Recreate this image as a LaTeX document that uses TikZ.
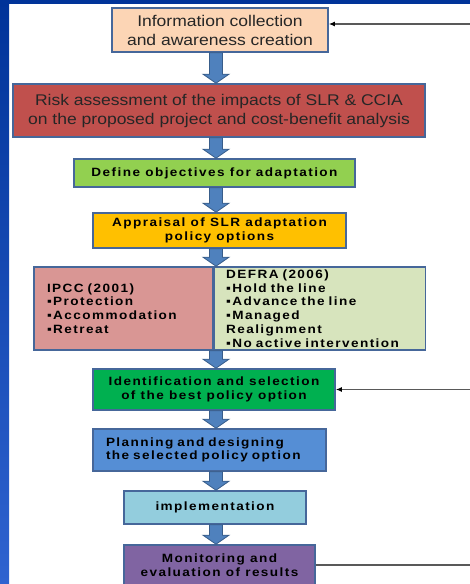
\documentclass[tikz,border=0pt]{standalone}
\usepackage{fontspec}
\setmainfont{Liberation Sans}
\newfontfamily\headfont[FakeStretch=1.13]{Liberation Sans}
\newfontfamily\stepfont[FakeStretch=1.13,LetterSpace=12]{Liberation Sans}
\usetikzlibrary{positioning,calc,arrows.meta}

\definecolor{slideblue}{HTML}{003399}
\definecolor{slidelight}{HTML}{2F63D0}
\definecolor{boxedge}{HTML}{46679A}
\definecolor{arrowblue}{HTML}{4F81BD}
\definecolor{arrowedge}{HTML}{385D8A}
\definecolor{infofill}{HTML}{FCD5B5}
\definecolor{riskfill}{HTML}{C0504D}
\definecolor{definefill}{HTML}{92D050}
\definecolor{appraisalfill}{HTML}{FFC000}
\definecolor{ipccfill}{HTML}{D99694}
\definecolor{defrafill}{HTML}{D7E4BD}
\definecolor{identfill}{HTML}{00B050}
\definecolor{planfill}{HTML}{558ED5}
\definecolor{implfill}{HTML}{93CDDD}
\definecolor{monitfill}{HTML}{8064A2}

% fat down arrow between two points on the spine
\newcommand\blockarrow[2]{%
  \path[draw=arrowedge, fill=arrowblue, line width=0.8pt]
    let \p1=(#1), \p2=(#2) in
    (\x1-6.5pt,\y1) -- (\x1+6.5pt,\y1) -- (\x1+6.5pt,\y2+9pt) -- (\x1+13pt,\y2+9pt)
    -- (\x1,\y2) -- (\x1-13pt,\y2+9pt) -- (\x1-6.5pt,\y2+9pt) -- cycle;}

\begin{document}
\begin{tikzpicture}[x=1pt, y=-1pt,
  stepbox/.style={draw=boxedge, line width=1.6pt, inner sep=0pt, align=center,
    font=\stepfont\bfseries\fontsize{12}{13.7}\selectfont},
  headbox/.style={stepbox, font=\headfont\fontsize{15.5}{19}\selectfont, text=black!85},
  listbox/.style={stepbox, align=left, minimum height=83pt},
  feedback/.style={draw=black!65, line width=1.3pt}]
  \useasboundingbox (0,0) rectangle (470,584);
  % slide frame
  \shade[top color=slideblue, bottom color=slidelight] (0,0) rectangle (9,584);
  \fill[slideblue] (0,0) rectangle (470,4);

  \coordinate (spine) at (216,0);
  \coordinate (rim) at (470,0);
  \coordinate (fbtop) at (470,24);

  \node[headbox, fill=infofill, minimum width=216pt, minimum height=44pt] (info) at (220,30)
    {Information collection\\and awareness creation};
  \node[headbox, fill=riskfill, minimum width=412pt, minimum height=53pt] (risk) at (219,110.5)
    {Risk assessment of the impacts of SLR \& CCIA\\on the proposed project and cost-benefit analysis};
  \node[stepbox, fill=definefill, minimum width=281pt, minimum height=28pt] (define) at (214.5,173)
    {Define objectives for adaptation};
  \node[stepbox, fill=appraisalfill, minimum width=253pt, minimum height=35pt] (appraisal) at (219.5,230.5)
    {Appraisal of SLR adaptation\\policy options};
  \node[listbox, fill=ipccfill, text width=153pt, inner xsep=13pt] (ipcc) at (123.5,308.5)
    {IPCC (2001)\\▪Protection\\▪Accommodation\\▪Retreat};
  \node[listbox, fill=defrafill, text width=188pt, inner xsep=11.5pt, right=0pt of ipcc] (defra)
    {DEFRA (2006)\\▪Hold the line\\▪Advance the line\\▪Managed\\Realignment\\▪No active intervention};
  \node[stepbox, fill=identfill, minimum width=242pt, minimum height=41pt] (ident) at (214,389.5)
    {Identification and selection\\of the best policy option};
  \node[stepbox, fill=planfill, align=left, text width=207pt, inner xsep=13pt, minimum height=42pt] (plan) at (209.5,450)
    {Planning and designing\\the selected policy option};
  \node[stepbox, fill=implfill, minimum width=182pt, minimum height=33pt] (impl) at (215,507.5)
    {implementation};
  \node[stepbox, fill=monitfill, minimum width=191pt, minimum height=40pt] (monit) at (219.5,565)
    {Monitoring and\\evaluation of results};

  \blockarrow{info.south -| spine}{risk.north -| spine}
  \blockarrow{risk.south -| spine}{define.north -| spine}
  \blockarrow{define.south -| spine}{appraisal.north -| spine}
  \blockarrow{appraisal.south -| spine}{ipcc.north -| spine}
  \blockarrow{ipcc.south -| spine}{ident.north -| spine}
  \blockarrow{ident.south -| spine}{plan.north -| spine}
  \blockarrow{plan.south -| spine}{impl.north -| spine}
  \blockarrow{impl.south -| spine}{monit.north -| spine}

  % feedback lines from the right
  \draw[feedback, -{Latex[length=6pt, width=5pt, color=black]}] (fbtop) -- (fbtop -| info.east);
  \draw[feedback, -{Latex[length=6pt, width=5pt, color=black]}] (rim |- ident.east) -- (ident.east);
  \draw[feedback] (monit.east) -- (monit.east -| rim);
\end{tikzpicture}
\end{document}
